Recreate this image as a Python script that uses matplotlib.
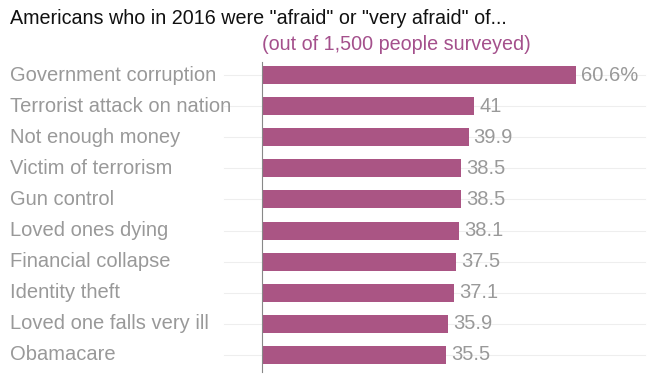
import matplotlib
matplotlib.use("Agg")
import matplotlib.pyplot as plt
import matplotlib.transforms as mtransforms

plt.rcParams['font.family'] = ['Liberation Sans', 'DejaVu Sans']

categories = ["Government corruption", "Terrorist attack on nation", "Not enough money",
              "Victim of terrorism", "Gun control", "Loved ones dying",
              "Financial collapse", "Identity theft", "Loved one falls very ill", "Obamacare"]
values = [60.6, 41, 39.9, 38.5, 38.5, 38.1, 37.5, 37.1, 35.9, 35.5]
value_labels = ["60.6%", "41", "39.9", "38.5", "38.5", "38.1", "37.5", "37.1", "35.9", "35.5"]

bar_color = '#aa5584'
gray = '#999999'

fig = plt.figure(figsize=(6.53, 3.78), dpi=100)
ax = fig.add_axes([262 / 653, 6 / 378, 383 / 653, 310 / 378])

ypos = list(range(len(categories)))
for y in ypos:
    ax.axhline(y, xmin=-0.1, xmax=1, color='#eeeeee', lw=0.8, zorder=0, clip_on=False)

ax.barh(ypos, values, height=0.58, color=bar_color, zorder=2)
ax.set_xlim(0, 74)
ax.set_ylim(9.55, -0.42)

for y, v, lab in zip(ypos, values, value_labels):
    ax.text(v + 1.0, y, lab, color=gray, fontsize=14.5, va='center', ha='left')

trans = mtransforms.blended_transform_factory(fig.transFigure, ax.transData)
for y, c in zip(ypos, categories):
    ax.text(10 / 653, y, c, color=gray, fontsize=14.5, va='center', ha='left', transform=trans)

for s in ['top', 'right', 'bottom']:
    ax.spines[s].set_visible(False)
ax.spines['left'].set_color('#888888')
ax.spines['left'].set_linewidth(0.8)
ax.set_xticks([])
ax.set_yticks([])

fig.text(10 / 653, 1 - 18 / 378, 'Americans who in 2016 were "afraid" or "very afraid" of...',
         fontsize=14.2, color='#111111', va='center', ha='left')
fig.text(262 / 653, 1 - 45 / 378, '(out of 1,500 people surveyed)',
         fontsize=14.2, color='#a4508c', va='center', ha='left')

fig.savefig('out.png', dpi=100, facecolor='white')
